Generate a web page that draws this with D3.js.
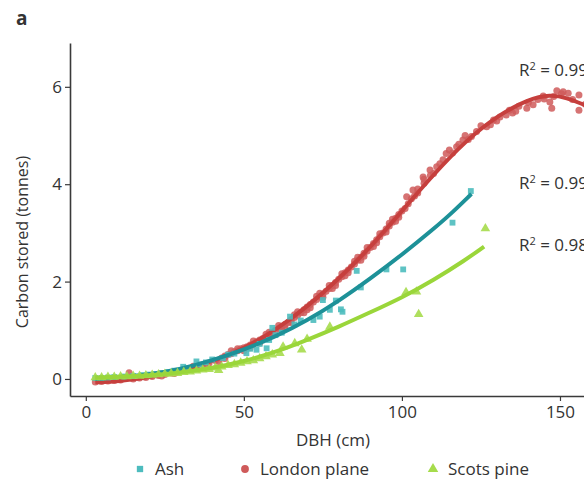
<!DOCTYPE html>
<html>
<head>
<meta charset="utf-8">
<script src="https://cdn.jsdelivr.net/npm/d3@7"></script>
<style>
  body { margin: 0; background: #fff; }
  #chart { width: 584px; height: 484px; overflow: hidden; }
  text { font-family: "Open Sans", "Noto Sans", sans-serif; fill: #333; }
</style>
</head>
<body>
<div id="chart"></div>
<script>
// series labels and R² values
const species = ["Ash", "London plane", "Scots pine"];
const r2Labels = ["0.99", "0.99", "0.98"];
const xTicks = [0, 50, 100, 150];
const yTicks = [0, 2, 4, 6];

// observed trees [DBH cm, carbon t]
const planePts = [[3,-0.06],[5,-0.05],[7,-0.04],[9,-0.03],[11,-0.02],[13.7,0.13],[15,0.0],[17,0.02],[19,0.03],[21,0.05],[23,0.07],[24,0.06],[25,0.09],[27,0.12],[28,0.11],[29,0.15],[31,0.18],[33,0.21],[34,0.26],[35,0.24],[37,0.29],[38,0.28],[39,0.33],[41,0.38],[42,0.36],[43,0.43],[44,0.47],[44,0.42],[45,0.5],[46,0.52],[46,0.58],[47,0.56],[48,0.58],[48,0.62],[49,0.62],[50,0.64],[50,0.58],[51,0.66],[52,0.7],[52,0.64],[53,0.72],[53,0.78],[54,0.76],[55,0.8],[55,0.74],[56,0.83],[57,0.86],[57,0.92],[58,0.9],[58,0.96],[59,0.95],[59,0.9],[60,1.0],[61,1.04],[61,1.1],[62,1.08],[62,1.02],[63,1.12],[63,1.06],[64,1.16],[65,1.22],[65,1.16],[66,1.26],[66,1.32],[67,1.31],[67,1.38],[68,1.36],[69,1.42],[69,1.36],[70,1.48],[70,1.42],[71,1.53],[71,1.46],[72,1.58],[73,1.63],[73,1.7],[74,1.69],[74,1.76],[75,1.74],[75,1.68],[76,1.8],[77,1.86],[77,1.92],[78,1.92],[78,1.86],[79,1.98],[79,1.92],[80,2.05],[81,2.1],[81,2.16],[82,2.18],[82,2.12],[83,2.24],[83,2.18],[84,2.3],[85,2.36],[85,2.42],[86,2.44],[86,2.5],[87,2.5],[87,2.44],[88,2.58],[88,2.52],[89,2.63],[89,2.7],[90,2.7],[91,2.78],[91,2.72],[92,2.86],[92,2.8],[93,2.92],[93,2.98],[94,3.0],[95,3.08],[95,3.02],[96,3.14],[96,3.2],[97,3.22],[97,3.28],[98,3.3],[98,3.24],[99,3.38],[99,3.32],[100,3.45],[101,3.5],[101.5,3.74],[102,3.6],[103,3.7],[103.5,3.88],[104,3.76],[105,3.9],[105,3.82],[106.7,4.15],[107,4.02],[107,4.1],[108.9,4.29],[109,4.18],[110,4.22],[111,4.36],[112,4.42],[113,4.5],[114,4.63],[115,4.7],[116,4.64],[117.3,4.77],[118,4.82],[119.3,4.91],[120,5.0],[121,4.92],[122,4.98],[123.6,5.08],[125,5.2],[126.8,5.18],[128,5.22],[129,5.32],[130,5.3],[131,5.38],[133,5.42],[134,5.52],[135,5.46],[136,5.5],[137,5.6],[139.5,5.56],[140,5.68],[141.5,5.63],[143,5.74],[144.7,5.81],[145,5.75],[146.8,5.69],[147.4,5.56],[148,5.8],[149,5.92],[150.5,5.86],[151,5.9],[152.6,5.87],[154,5.74],[156,5.83],[156,5.52],[158,5.64]];

const ashPts = [[3,0.02],[5,0.02],[7,0.03],[9,0.04],[12,0.05],[15,0.06],[18,0.08],[20,0.09],[22,0.1],[24,0.12],[26,0.14],[28,0.17],[30.8,0.25],[32,0.22],[35,0.36],[36,0.3],[38,0.34],[40,0.4],[43.4,0.43],[45,0.5],[47,0.52],[50.8,0.53],[52,0.62],[54,0.6],[55,0.72],[57.2,0.63],[58,0.8],[59,1.05],[60,0.9],[62,0.95],[64.6,1.28],[66,1.12],[68,1.2],[72,1.21],[74,1.28],[75,1.62],[77.2,1.42],[79.1,1.61],[80.7,1.43],[81.2,1.38],[85.7,2.22],[87,1.88],[95.1,2.25],[100.4,2.25],[116,3.21],[121.8,3.86]];

const pinePts = [[3,0.03],[5,0.03],[7,0.04],[9,0.04],[11,0.05],[13,0.05],[15,0.06],[17,0.06],[19,0.07],[21,0.08],[23,0.09],[25,0.1],[27,0.11],[29,0.12],[31,0.14],[33,0.15],[35,0.17],[37,0.19],[39,0.2],[41,0.23],[42,0.18],[43,0.25],[45,0.28],[47,0.3],[49,0.33],[51,0.36],[53,0.38],[55,0.42],[57,0.46],[59,0.5],[61.4,0.53],[62.4,0.66],[66.1,0.73],[68.3,0.6],[70,0.82],[77.2,1.07],[101.3,1.78],[104.6,1.79],[105.3,1.33],[126.4,3.09]];

// fitted curves [DBH, carbon]
const planeFit = [[3,-0.07],[10,-0.05],[20,0.03],[30,0.16],[40,0.36],[50,0.62],[60,1.0],[70,1.48],[80,2.05],[90,2.7],[100,3.45],[110,4.2],[120,4.88],[130,5.4],[140,5.75],[147,5.84],[152,5.78],[158,5.62]];
const ashFit = [[3,0.0],[20,0.08],[30,0.2],[40,0.38],[50,0.6],[60,0.87],[70,1.2],[80,1.6],[90,2.06],[100,2.55],[110,3.08],[116,3.42],[122,3.8]];
const pineFit = [[3,0.03],[20,0.07],[30,0.13],[40,0.22],[50,0.36],[60,0.55],[70,0.8],[80,1.07],[90,1.37],[100,1.67],[110,2.03],[120,2.44],[126,2.72]];

const width = 584, height = 484;
const margin = {top: 43, left: 70, right: 0, bottom: 88};

const canvas = d3.select("#chart").append("svg")
  .attr("width", width).attr("height", height);

const xScale = d3.scaleLinear().domain([-5, 157.6]).range([margin.left, width - margin.right]);
const yScale = d3.scaleLinear().domain([-0.35, 6.9]).range([height - margin.bottom, margin.top]);

const colors = {
  plane: {pt: "#cf5a5a", line: "#c63f3d"},
  ash: {pt: "#4dbcbe", line: "#1d9198"},
  pine: {pt: "#a6dc4c", line: "#9ad63a"}
};

const line = d3.line()
  .x(d => xScale(d[0])).y(d => yScale(d[1]))
  .curve(d3.curveBasis);

const plot = canvas.append("g");

// London plane
plot.append("g").selectAll("circle").data(planePts).enter().append("circle")
  .attr("cx", d => xScale(d[0])).attr("cy", d => yScale(d[1]))
  .attr("r", 3.5).attr("fill", colors.plane.pt).attr("fill-opacity", 0.85);
plot.append("path").datum(planeFit).attr("d", line)
  .attr("fill", "none").attr("stroke", colors.plane.line).attr("stroke-width", 4);

// Ash
const sq = d3.symbol().type(d3.symbolSquare).size(34);
plot.append("g").selectAll("path").data(ashPts).enter().append("path")
  .attr("d", sq)
  .attr("transform", d => `translate(${xScale(d[0])},${yScale(d[1])})`)
  .attr("fill", colors.ash.pt).attr("fill-opacity", 0.9);
plot.append("path").datum(ashFit).attr("d", line)
  .attr("fill", "none").attr("stroke", colors.ash.line).attr("stroke-width", 4);

// Scots pine
const tri = d3.symbol().type(d3.symbolTriangle).size(40);
plot.append("g").selectAll("path").data(pinePts).enter().append("path")
  .attr("d", tri)
  .attr("transform", d => `translate(${xScale(d[0])},${yScale(d[1])})`)
  .attr("fill", colors.pine.pt).attr("fill-opacity", 0.9);
plot.append("path").datum(pineFit).attr("d", line)
  .attr("fill", "none").attr("stroke", colors.pine.line).attr("stroke-width", 4);

// axes
const xAxis = canvas.append("g")
  .attr("transform", `translate(0,${height - margin.bottom})`)
  .call(d3.axisBottom(xScale).tickValues(xTicks).tickSize(5).tickPadding(5).tickSizeOuter(0));
const yAxis = canvas.append("g")
  .attr("transform", `translate(${margin.left},0)`)
  .call(d3.axisLeft(yScale).tickValues(yTicks).tickSize(5).tickPadding(3).tickSizeOuter(0));

[xAxis, yAxis].forEach(a => {
  a.select(".domain").attr("stroke", "#3a3a3a").attr("stroke-width", 1.6);
  a.selectAll(".tick line").attr("stroke", "#3a3a3a").attr("stroke-width", 1.2);
  a.selectAll(".tick text").style("font-size", "17px").attr("fill", "#333");
});

// labels
canvas.append("text").attr("x", 333).attr("y", 446).attr("text-anchor", "middle")
  .style("font-size", "17px").text("DBH (cm)");
canvas.append("text").attr("transform", "rotate(-90)")
  .attr("x", -242).attr("y", 28).attr("text-anchor", "middle")
  .style("font-size", "16px").text("Carbon stored (tonnes)");
canvas.append("text").attr("x", 16).attr("y", 25)
  .style("font-size", "19px").style("font-weight", "bold").attr("fill", "#000").text("a");

// R² labels (cut at the right edge, as in the source figure)
const r2Y = [189, 76, 251];
const r2 = canvas.selectAll(".r2").data(species).enter().append("text")
  .attr("class", "r2").attr("x", 519).attr("y", (d, i) => r2Y[i])
  .style("font-size", "17px");
r2.append("tspan").text("R");
r2.append("tspan").attr("dy", -6).style("font-size", "11px").text("2");
r2.append("tspan").attr("dy", 6).text((d, i) => " = " + r2Labels[i]);

// legend
const legX = [140, 245, 433];
const leg = canvas.selectAll(".leg").data(species).enter().append("g")
  .attr("class", "leg").attr("transform", (d, i) => `translate(${legX[i]},469)`);
leg.append("path")
  .attr("d", (d, i) => d3.symbol().type([d3.symbolSquare, d3.symbolCircle, d3.symbolTriangle][i]).size([40, 48, 48][i])())
  .attr("fill", (d, i) => [colors.ash.pt, colors.plane.pt, colors.pine.pt][i]);
leg.append("text").attr("x", 15).attr("y", 6).style("font-size", "17px").text(d => d);
</script>
</body>
</html>
